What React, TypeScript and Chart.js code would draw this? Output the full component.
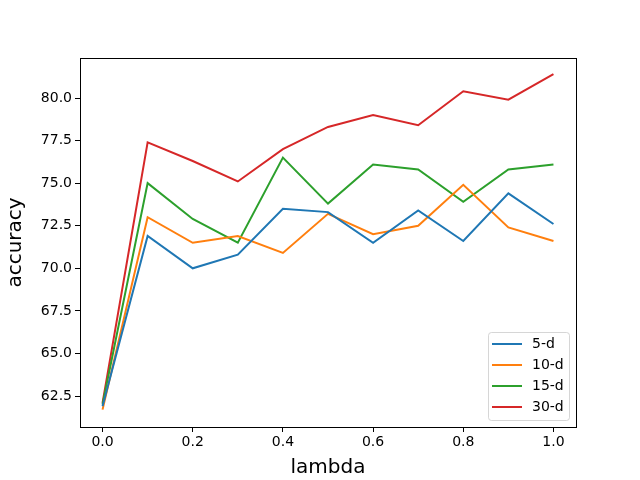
import React, { useEffect, useRef } from 'react';
import { Chart, registerables, Plugin } from 'chart.js';

Chart.register(...registerables);

const lambdas = [0.0, 0.1, 0.2, 0.3, 0.4, 0.5, 0.6, 0.7, 0.8, 0.9, 1.0];
const acc5d = [61.9, 71.9, 70.0, 70.8, 73.5, 73.3, 71.5, 73.4, 71.6, 74.4, 72.6];
const acc10d = [61.7, 73.0, 71.5, 71.9, 70.9, 73.2, 72.0, 72.5, 74.9, 72.4, 71.6];
const acc15d = [62.0, 75.0, 72.9, 71.5, 76.5, 73.8, 76.1, 75.8, 73.9, 75.8, 76.1];
const acc30d = [62.1, 77.4, 76.3, 75.1, 77.0, 78.3, 79.0, 78.4, 80.4, 79.9, 81.4];

const seriesLabels = ['5-d', '10-d', '15-d', '30-d'];
const seriesColors = ['#1f77b4', '#ff7f0e', '#2ca02c', '#d62728'];

const xTicks = [0.0, 0.2, 0.4, 0.6, 0.8, 1.0];
const yTicks = [62.5, 65.0, 67.5, 70.0, 72.5, 75.0, 77.5, 80.0];

const FONT = "'DejaVu Sans', sans-serif";

// matplotlib-style frame round the plot area
const framePlugin: Plugin<'line'> = {
  id: 'frame',
  afterDraw(chart) {
    const { ctx, chartArea: a } = chart;
    ctx.save();
    ctx.strokeStyle = '#000';
    ctx.lineWidth = 1;
    ctx.strokeRect(a.left + 0.5, a.top + 0.5, a.right - a.left, a.bottom - a.top);
    ctx.restore();
  },
};

// legend in the lower right, inside the axes
const boxLegendPlugin: Plugin<'line'> = {
  id: 'boxLegend',
  afterDraw(chart) {
    const { ctx, chartArea: a } = chart;
    const w = 81;
    const h = 88;
    const x = a.right - 7 - w;
    const y = a.bottom - 7 - h;
    ctx.save();
    ctx.fillStyle = 'rgba(255,255,255,0.8)';
    ctx.strokeStyle = 'rgba(204,204,204,0.8)';
    ctx.lineWidth = 1;
    ctx.beginPath();
    ctx.roundRect(x + 0.5, y + 0.5, w, h, 3);
    ctx.fill();
    ctx.stroke();
    ctx.font = `14px ${FONT}`;
    ctx.textBaseline = 'middle';
    chart.data.datasets.forEach((ds, i) => {
      const cy = y + 12 + i * 21;
      ctx.strokeStyle = ds.borderColor as string;
      ctx.lineWidth = 2;
      ctx.beginPath();
      ctx.moveTo(x + 4, cy);
      ctx.lineTo(x + 34, cy);
      ctx.stroke();
      ctx.fillStyle = '#000';
      ctx.fillText(ds.label ?? '', x + 44, cy);
    });
    ctx.restore();
  },
};

export default function App() {
  const canvasRef = useRef<HTMLCanvasElement>(null);

  useEffect(() => {
    document.body.style.margin = '0';
    if (!canvasRef.current) return;
    const values = [acc5d, acc10d, acc15d, acc30d];

    const chart = new Chart(canvasRef.current, {
      type: 'line',
      data: {
        datasets: values.map((vals, i) => ({
          label: seriesLabels[i],
          data: vals.map((v, j) => ({ x: lambdas[j], y: v })),
          borderColor: seriesColors[i],
          backgroundColor: seriesColors[i],
          borderWidth: 2,
          pointRadius: 0,
          tension: 0,
          fill: false,
        })),
      },
      options: {
        animation: false,
        responsive: true,
        maintainAspectRatio: false,
        layout: { padding: { top: 58, right: 64, left: 0, bottom: 0 } },
        plugins: {
          legend: { display: false },
          tooltip: { enabled: false },
        },
        scales: {
          x: {
            type: 'linear',
            min: -0.05,
            max: 1.05,
            afterBuildTicks: (scale) => {
              scale.ticks = xTicks.map((v) => ({ value: v }));
            },
            afterFit: (scale) => {
              scale.height = 53;
            },
            grid: { drawOnChartArea: false, color: '#000', tickLength: 5 },
            border: { display: true, color: '#000' },
            ticks: {
              color: '#000',
              padding: 2,
              maxRotation: 0,
              font: { family: FONT, size: 14 },
              callback: (value) => Number(value).toFixed(1),
            },
            title: {
              display: true,
              text: 'lambda',
              color: '#000',
              padding: { top: 0, bottom: 0 },
              font: { family: FONT, size: 20 },
            },
          },
          y: {
            type: 'linear',
            min: 60.68,
            max: 82.35,
            afterBuildTicks: (scale) => {
              scale.ticks = yTicks.map((v) => ({ value: v }));
            },
            afterFit: (scale) => {
              scale.width = 80;
            },
            grid: { drawOnChartArea: false, color: '#000', tickLength: 5 },
            border: { display: true, color: '#000' },
            ticks: {
              color: '#000',
              padding: 3,
              font: { family: FONT, size: 14 },
              callback: (value) => Number(value).toFixed(1),
            },
            title: {
              display: true,
              text: 'accuracy',
              color: '#000',
              padding: { top: 4, bottom: 0 },
              font: { family: FONT, size: 20 },
            },
          },
        },
      },
      plugins: [framePlugin, boxLegendPlugin],
    });

    return () => {
      chart.destroy();
    };
  }, []);

  return (
    <div style={{ width: '640px', height: '480px', position: 'relative', background: '#fff' }}>
      <canvas ref={canvasRef} />
    </div>
  );
}
